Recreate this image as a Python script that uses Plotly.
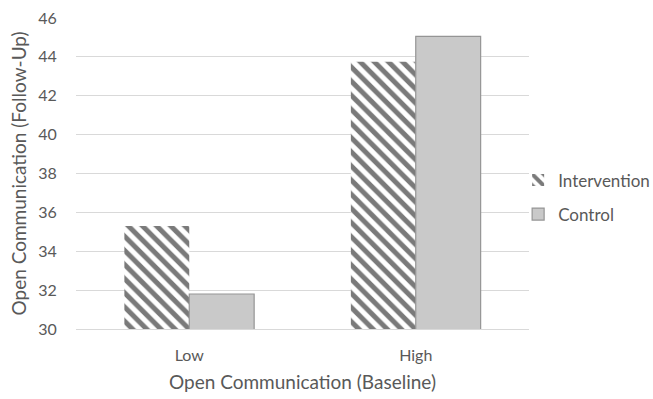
import plotly.graph_objects as go

categories = ["Low", "High"]
intervention = [35.3, 43.75]
control = [31.8, 45.05]
y_ticks = [30, 32, 34, 36, 38, 40, 42, 44, 46]

font_family = "Lato, 'Open Sans', sans-serif"
text_color = "#595959"

fig = go.Figure()
fig.add_trace(go.Bar(
    x=categories, y=intervention, name="Intervention", legendgroup="a",
    marker=dict(color="white", line=dict(width=0),
                pattern=dict(shape="\\", fgcolor="#7a7a7a", bgcolor="white",
                             fgopacity=1, size=10, solidity=0.5,
                             fillmode="replace")),
))
fig.add_trace(go.Bar(
    x=categories, y=control, name="Control", legendgroup="b",
    marker=dict(color="#c9c9c9", line=dict(color="#959595", width=1.2)),
))

fig.update_layout(
    width=653, height=399,
    margin=dict(l=76, r=124, t=18, b=70, autoexpand=False),
    plot_bgcolor="white", paper_bgcolor="white",
    barmode="group", bargap=0.427, bargroupgap=0,
    font=dict(family=font_family, size=16, color=text_color),
    legend=dict(x=0.976, xanchor="left", y=0.423, yanchor="middle",
                traceorder="grouped", tracegroupgap=9,
                bgcolor="rgba(0,0,0,0)",
                font=dict(size=17, color=text_color),
                itemwidth=30),
    xaxis=dict(title=dict(text="Open Communication (Baseline)", standoff=12,
                          font=dict(size=19, color=text_color)),
               showline=True, linecolor="#d9d9d9", linewidth=1,
               ticks="outside", ticklen=12, tickcolor="white",
               tickfont=dict(size=16, color=text_color)),
    yaxis=dict(title=dict(text="Open Communication (Follow-Up)", standoff=6,
                          font=dict(size=19, color=text_color)),
               range=[30, 46], tickvals=y_ticks, showgrid=True,
               gridcolor="#d9d9d9", gridwidth=1, zeroline=False,
               ticks="outside", ticklen=15, tickcolor="white",
               tickfont=dict(size=16, color=text_color)),
)

fig.write_html("out.html")
